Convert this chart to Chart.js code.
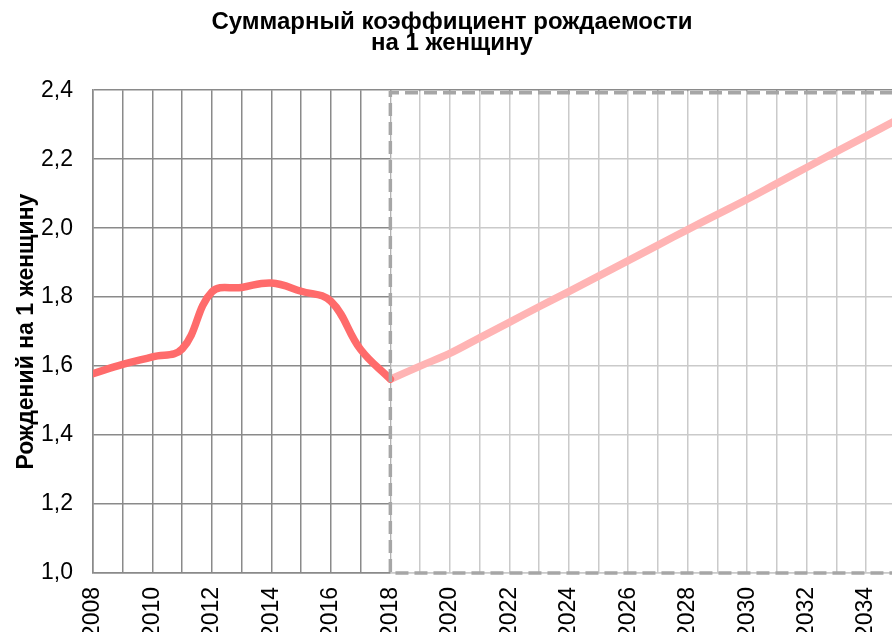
<!DOCTYPE html>
<html>
<head>
<meta charset="utf-8">
<script src="https://cdn.jsdelivr.net/npm/chart.js@4.4.1/dist/chart.umd.min.js"></script>
<style>
  html, body { margin: 0; padding: 0; background: #fff; }
  #wrap { width: 892px; height: 632px; }
</style>
</head>
<body>
<div id="wrap"><canvas id="c" width="892" height="632"></canvas></div>
<script>
// Фактические данные
const yearsActual = [2008, 2009, 2010, 2011, 2012, 2013, 2014, 2015, 2016, 2017, 2018];
const tfrActual   = [1.578, 1.605, 1.627, 1.65, 1.815, 1.828, 1.841, 1.817, 1.788, 1.648, 1.562];
// Прогноз
const yearsForecast = [2018, 2019, 2020, 2021, 2022, 2023, 2024, 2025, 2026, 2027, 2028, 2029, 2030, 2031, 2032, 2033, 2034, 2035];
const tfrForecast   = [1.562, 1.600, 1.637, 1.682, 1.727, 1.772, 1.816, 1.861, 1.906, 1.951, 1.996, 2.040, 2.084, 2.130, 2.176, 2.222, 2.267, 2.312];
// Подписи
const titleLines = ['Суммарный коэффициент рождаемости', 'на 1 женщину'];
const yAxisTitle = 'Рождений на 1 женщину';
const forecastStart = 2018;

const FONT = "'Liberation Sans', Arial, sans-serif";

const toPoints = (xs, ys) => xs.map((x, i) => ({ x: x, y: ys[i] }));

const forecastBox = {
  id: 'forecastBox',
  beforeDatasetsDraw(chart) {
    const { ctx, chartArea, scales } = chart;
    const x0 = scales.x.getPixelForValue(forecastStart);
    ctx.save();
    ctx.fillStyle = 'rgba(255,255,255,0.55)';
    ctx.fillRect(x0, chartArea.top + 1, chartArea.right - x0 + 2, chartArea.bottom - chartArea.top);
    ctx.restore();
  },
  afterDatasetsDraw(chart) {
    const { ctx, chartArea, scales } = chart;
    const x0 = scales.x.getPixelForValue(forecastStart);
    ctx.save();
    ctx.strokeStyle = '#a6a6a6';
    ctx.lineWidth = 3.5;
    ctx.setLineDash([13, 6]);
    ctx.beginPath();
    ctx.moveTo(chartArea.right + 20, chartArea.top + 2.5);
    ctx.lineTo(x0, chartArea.top + 2.5);
    ctx.lineTo(x0, chartArea.bottom);
    ctx.lineTo(chartArea.right + 20, chartArea.bottom);
    ctx.stroke();
    ctx.restore();
  }
};

new Chart(document.getElementById('c'), {
  type: 'line',
  data: {
    datasets: [
      {
        label: 'Факт',
        data: toPoints(yearsActual, tfrActual),
        borderColor: '#ff6b6b',
        borderWidth: 7.5,
        pointRadius: 0,
        tension: 0.4,
        borderCapStyle: 'round'
      },
      {
        label: 'Прогноз',
        data: toPoints(yearsForecast, tfrForecast),
        borderColor: '#ffb4b4',
        borderWidth: 7.5,
        pointRadius: 0,
        tension: 0.4,
        borderCapStyle: 'round'
      }
    ]
  },
  options: {
    responsive: false,
    animation: false,
    events: [],
    layout: { padding: { left: 12, right: 0, top: 0, bottom: 0 } },
    plugins: {
      legend: { display: false },
      tooltip: { enabled: false },
      title: {
        display: true,
        text: titleLines,
        color: '#000',
        font: { family: FONT, size: 24, weight: 'bold', lineHeight: 0.88 },
        padding: { top: 12, bottom: 36 }
      }
    },
    scales: {
      x: {
        type: 'linear',
        min: 2008,
        max: 2034.87,
        afterFit: (s) => { s.height = 59; s.paddingLeft = 0; s.paddingRight = 0; },
        border: { display: true, color: '#8a8a8a', width: 1.5 },
        grid: { color: '#8a8a8a', lineWidth: 1.5, drawTicks: false },
        ticks: {
          stepSize: 1,
          includeBounds: false,
          autoSkip: false,
          maxRotation: 90,
          minRotation: 90,
          padding: 14,
          color: '#000',
          font: { family: FONT, size: 23 },
          callback: (v) => (Number.isInteger(v) && v % 2 === 0) ? String(v) : ''
        }
      },
      y: {
        min: 1,
        max: 2.4,
        afterFit: (s) => { s.width = 81; },
        border: { display: true, color: '#8a8a8a', width: 1.5 },
        grid: { color: '#8a8a8a', lineWidth: 1.5, drawTicks: false },
        ticks: {
          stepSize: 0.2,
          padding: 20,
          color: '#000',
          font: { family: FONT, size: 23 },
          callback: (v) => v.toFixed(1).replace('.', ',')
        },
        title: {
          display: true,
          text: yAxisTitle,
          color: '#000',
          font: { family: FONT, size: 23, weight: 'bold' },
          padding: { top: 1, bottom: 0 }
        }
      }
    }
  },
  plugins: [forecastBox]
});
</script>
</body>
</html>
